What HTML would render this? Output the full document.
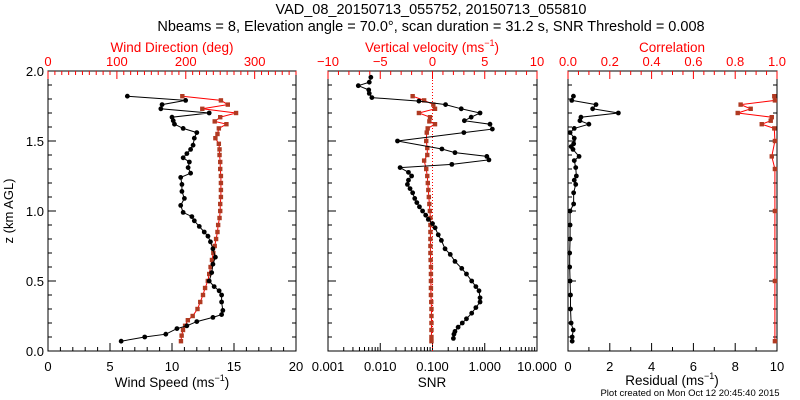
<!DOCTYPE html>
<html><head><meta charset="utf-8"><style>
html,body{margin:0;padding:0;background:#fff;}
svg{display:block;font-family:"Liberation Sans",sans-serif;}
</style></head><body>
<svg id="c" width="800" height="400" viewBox="0 0 800 400">
<text x="431" y="14" font-size="14.5" text-anchor="middle">VAD_08_20150713_055752, 20150713_055810</text>
<text x="431" y="31" font-size="14.5" text-anchor="middle">Nbeams = 8, Elevation angle = 70.0°, scan duration = 31.2 s, SNR Threshold = 0.008</text>
<text x="690" y="396" font-size="9.5" text-anchor="middle">Plot created on Mon Oct 12 20:45:40 2015</text>
<text transform="translate(13,211) rotate(-90)" font-size="13" text-anchor="middle">z (km AGL)</text>
<g id="g"></g>
</svg>
<script>
// heights (km) and values
const zSpeed=[1.82,1.79,1.76,1.73,1.70,1.67,1.645,1.62,1.59,1.56,1.52,1.47,1.44,1.41,1.38,1.35,1.31,1.27,1.24,1.19,1.14,1.09,1.04,0.99,0.96,0.93,0.89,0.85,0.82,0.78,0.73,0.67,0.62,0.56,0.50,0.46,0.43,0.40,0.35,0.29,0.26,0.24,0.21,0.18,0.16,0.12,0.10,0.07];
const windSpeed=[6.4,11.1,9.2,9.1,13.0,10.0,10.1,10.2,10.9,12.0,11.8,11.7,11.5,11.2,10.9,11.4,11.3,11.5,10.7,10.8,10.8,11.0,10.7,10.9,11.6,11.8,12.2,12.6,12.9,13.1,13.3,13.5,13.3,13.2,13.0,13.4,13.8,14.0,14.0,14.1,14.0,13.3,12.0,11.2,10.4,9.5,7.8,5.9];
const zDir=[1.82,1.79,1.76,1.73,1.70,1.67,1.64,1.62,1.59,1.55,1.52,1.48,1.44,1.40,1.35,1.30,1.25,1.20,1.15,1.10,1.05,1.00,0.95,0.90,0.85,0.80,0.75,0.70,0.65,0.60,0.55,0.50,0.45,0.40,0.35,0.30,0.25,0.22,0.18,0.15,0.11,0.07];
const windDir=[195,251,261,224,273,250,242,259,248,246,243,248,249,249,250,250,251,251,251,251,250,250,249,247,246,244,242,240,238,236,234,232,228,225,221,217,210,203,199,196,194,193];
const zSnr=[1.955,1.92,1.895,1.865,1.84,1.81,1.785,1.76,1.73,1.70,1.67,1.645,1.62,1.585,1.56,1.50,1.443,1.417,1.39,1.365,1.333,1.31,1.276,1.25,1.22,1.19,1.16,1.13,1.09,1.06,1.03,1.0,0.97,0.94,0.91,0.88,0.83,0.79,0.73,0.69,0.64,0.59,0.55,0.50,0.46,0.43,0.38,0.35,0.31,0.27,0.23,0.20,0.17,0.14,0.12,0.09];
const logSnr=[-2.18,-2.21,-2.42,-2.22,-2.21,-2.16,-1.26,-0.75,-0.45,-0.09,-0.26,-0.39,0.10,0.145,-0.40,-1.67,-0.82,-0.57,0.04,0.08,-0.63,-1.62,-1.46,-1.40,-1.46,-1.48,-1.43,-1.38,-1.34,-1.30,-1.25,-1.19,-1.13,-1.08,-1.00,-0.95,-0.89,-0.83,-0.76,-0.66,-0.57,-0.44,-0.35,-0.25,-0.17,-0.11,-0.09,-0.09,-0.17,-0.25,-0.35,-0.43,-0.51,-0.57,-0.59,-0.60];
const zW=[1.82,1.79,1.76,1.73,1.70,1.67,1.64,1.62,1.59,1.56,1.50,1.45,1.40,1.36,1.30,1.25,1.20,1.15,1.10,1.05,1.00,0.95,0.90,0.85,0.80,0.75,0.70,0.65,0.60,0.55,0.50,0.45,0.40,0.35,0.30,0.25,0.20,0.15,0.10,0.07];
const wVel=[-1.9,-0.8,0.08,0.24,-1.3,-0.24,-0.3,0.24,-0.46,-0.55,-0.6,-0.5,-0.5,-0.8,-0.6,-0.5,-0.45,-0.4,-0.35,-0.3,-0.25,-0.2,-0.2,-0.2,-0.2,-0.2,-0.2,-0.18,-0.15,-0.15,-0.15,-0.15,-0.15,-0.12,-0.1,-0.1,-0.1,-0.1,-0.1,-0.1];
const zRes=[1.82,1.79,1.76,1.73,1.70,1.67,1.645,1.62,1.59,1.56,1.52,1.48,1.46,1.44,1.39,1.36,1.31,1.25,1.22,1.19,1.13,1.05,1.00,0.90,0.80,0.70,0.60,0.50,0.40,0.30,0.20,0.15,0.10,0.07];
const residual=[0.26,0.18,1.34,1.18,2.41,0.62,0.57,1.0,0.3,0.1,0.3,0.27,0.15,0.24,0.53,0.3,0.37,0.4,0.3,0.37,0.27,0.27,0.1,0.1,0.1,0.08,0.08,0.1,0.12,0.12,0.15,0.25,0.2,0.2];
const zCor=[1.82,1.79,1.76,1.73,1.70,1.67,1.645,1.62,1.59,1.50,1.39,1.30,1.00,0.50,0.07];
const correlation=[0.987,0.99,0.826,0.874,0.812,0.975,0.97,0.927,0.987,0.99,0.975,0.99,0.99,0.99,0.99];

const NS='http://www.w3.org/2000/svg';
const G=document.getElementById('g');
const TOP=71,BOT=351;
const yz=z=>BOT-(z/2)*(BOT-TOP);
function mk(t,a,p){const e=document.createElementNS(NS,t);for(const k in a)e.setAttribute(k,a[k]);(p||G).appendChild(e);return e;}
function txt(x,y,s,col,size,name,anchor){const e=mk('text',{x:x,y:y,'font-size':size,fill:col,'text-anchor':anchor||'middle'});e.textContent=s;


return e;}
function ln(x1,y1,x2,y2,col,name){const e=mk('line',{x1:x1,y1:y1,x2:x2,y2:y2,stroke:col,'stroke-width':1});


return e;}
const panels=[{L:48,R:296},{L:328,R:537},{L:568,R:777}];
panels.forEach((p,i)=>{
 const r=mk('rect',{x:p.L,y:TOP,width:p.R-p.L,height:BOT-TOP,fill:'none',stroke:'#000','stroke-width':1});
 
 
 for(let k=0;k<=20;k++){const y=yz(k/10),len=k%5==0?8:4;
  ln(p.L,y,p.L+len,y,'#000','y-tick');ln(p.R,y,p.R-len,y,'#000','y-tick-right');}
});
for(let k=0;k<=4;k++){txt(44,yz(k*0.5)+5,(k*0.5).toFixed(1),'#000',13,'y-tick-label','end');}
function linX(p,min,max){return v=>p.L+(v-min)/(max-min)*(p.R-p.L);}
function title(x,y,main,col,name){const t=txt(x,y,main,col,13.5,name);const a=mk('tspan',{dy:-6,'font-size':9},t);a.textContent='−1';const b=mk('tspan',{dy:6},t);b.textContent=')';return t;}
// Panel 1
const xs1=linX(panels[0],0,20), xd1=linX(panels[0],0,360);
for(let v=0;v<=20;v++){ln(xs1(v),BOT,xs1(v),BOT-(v%5==0?8:4),'#000','x-tick');}
[0,5,10,15,20].forEach(v=>txt(xs1(v),371,String(v),'#000',13,'x-tick-label'));
for(let v=0;v<=360;v+=10){ln(xd1(v),TOP,xd1(v),TOP+(v%100==0?8:4),'#f00','top-tick');}
[0,100,200,300].forEach(v=>txt(xd1(v),66,String(v),'#f00',13,'top-tick-label'));
title(172,387,'Wind Speed (ms','#000','x-axis-title-speed');
txt(172,52,'Wind Direction (deg)','#f00',13.5,'top-axis-title-direction');
// Panel 2
const xl2=linX(panels[1],-3,1), xw2=linX(panels[1],-10,10);
for(let d=-3;d<1;d++){for(let m=1;m<10;m++){const x=xl2(d+Math.log10(m));ln(x,BOT,x,BOT-(m==1?8:4),'#000','x-tick');}}
ln(xl2(1),BOT,xl2(1),BOT-8,'#000','x-tick');
['0.001','0.010','0.100','1.000','10.000'].forEach((s,i)=>txt(xl2(i-3),371,s,'#000',13,'x-tick-label'));
for(let v=-10;v<=10;v++){ln(xw2(v),TOP,xw2(v),TOP+(v%5==0?8:4),'#f00','top-tick');}
[-10,-5,0,5,10].forEach(v=>txt(xw2(v),66,String(v).replace('-','−'),'#f00',13,'top-tick-label'));
txt(432,387,'SNR','#000',13.5,'x-axis-title-snr');
title(432,52,'Vertical velocity (ms','#f00','top-axis-title-velocity');
const zl=mk('line',{x1:xw2(0),y1:TOP,x2:xw2(0),y2:BOT,stroke:'#f00','stroke-width':1,'stroke-dasharray':'1,2'});


// Panel 3
const xr3=linX(panels[2],0,10), xc3=linX(panels[2],0,1);
for(let v=0;v<=10;v++){ln(xr3(v),BOT,xr3(v),BOT-(v%2==0?8:4),'#000','x-tick');}
[0,2,4,6,8,10].forEach(v=>txt(xr3(v),371,String(v),'#000',13,'x-tick-label'));
for(let k=0;k<=20;k++){ln(xc3(k/20),TOP,xc3(k/20),TOP+(k%4==0?8:4),'#f00','top-tick');}
['0.0','0.2','0.4','0.6','0.8','1.0'].forEach((s,i)=>txt(xc3(i*0.2),66,s,'#f00',13,'top-tick-label'));
title(672,385,'Residual (ms','#000','x-axis-title-residual');
txt(672,52,'Correlation','#f00',13.5,'top-axis-title-correlation');
// series
function series(xs,zs,xf,lineCol,mkCol,name,sq){
 const g=mk('g',{});
 
 
 const pts=xs.map((v,i)=>[xf(v),yz(zs[i])]);
 const pl=mk('polyline',{points:pts.map(p=>p.join(',')).join(' '),fill:'none',stroke:lineCol,'stroke-width':1},g);
 
 
 pts.forEach(p=>{const c=sq?mk('rect',{x:p[0]-2.2,y:p[1]-2.2,width:4.4,height:4.4,fill:mkCol},g):mk('circle',{cx:p[0],cy:p[1],r:2.4,fill:mkCol},g);
  
  });
}
series(windDir,zDir,xd1,'#f00','#b03a22','wind-direction-series',true);
series(windSpeed,zSpeed,xs1,'#000','#000','wind-speed-series',false);
series(wVel,zW,xw2,'#f00','#b03a22','vertical-velocity-series',true);
series(logSnr,zSnr,xl2,'#000','#000','snr-series',false);
series(correlation,zCor,xc3,'#f00','#b03a22','correlation-series',true);
series(residual,zRes,xr3,'#000','#000','residual-series',false);
</script>
</body></html>
